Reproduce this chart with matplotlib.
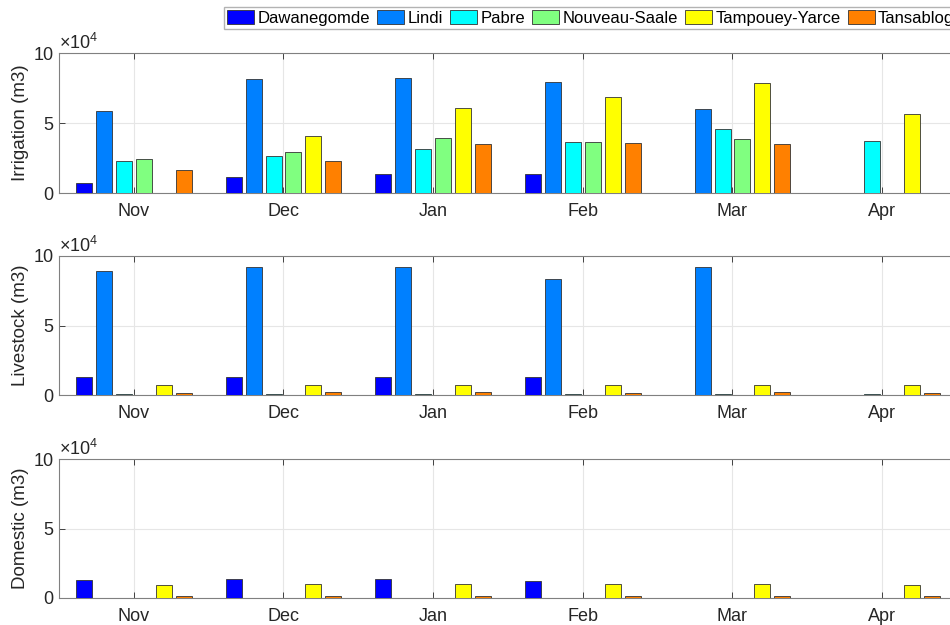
import matplotlib
matplotlib.use('Agg')
import matplotlib.pyplot as plt
import numpy as np
from matplotlib.patches import Patch

plt.rcParams['font.family'] = ['Liberation Sans', 'DejaVu Sans']
plt.rcParams['mathtext.fontset'] = 'custom'
plt.rcParams['mathtext.rm'] = 'Liberation Sans'

months = ['Nov', 'Dec', 'Jan', 'Feb', 'Mar', 'Apr']
sites = ['Dawanegomde', 'Lindi', 'Pabre', 'Nouveau-Saale', 'Tampouey-Yarce', 'Tansablogo']
colors = ['#0000ff', '#0080ff', '#00ffff', '#80ff80', '#ffff00', '#ff8000']

# monthly volumes (m3), one list per site
irrigation = {
    'Dawanegomde':    [7400, 11600, 13300, 13800, 0, 0],
    'Lindi':          [58600, 81200, 82400, 79000, 59800, 0],
    'Pabre':          [22600, 26400, 31400, 36700, 45500, 37400],
    'Nouveau-Saale':  [24100, 29000, 39000, 36700, 38300, 0],
    'Tampouey-Yarce': [0, 40700, 60900, 68800, 78300, 56400],
    'Tansablogo':     [16400, 22800, 34800, 35900, 34800, 0],
}
livestock = {
    'Dawanegomde':    [13200, 13200, 13200, 13200, 0, 0],
    'Lindi':          [89200, 92000, 92000, 83400, 92000, 0],
    'Pabre':          [500, 500, 500, 500, 500, 500],
    'Nouveau-Saale':  [0, 0, 0, 0, 0, 0],
    'Tampouey-Yarce': [7000, 7500, 7500, 7000, 7500, 7000],
    'Tansablogo':     [1700, 1900, 1800, 1700, 1800, 1700],
}
domestic = {
    'Dawanegomde':    [13200, 13400, 13400, 12200, 0, 0],
    'Lindi':          [0, 0, 0, 0, 0, 0],
    'Pabre':          [0, 0, 0, 0, 0, 0],
    'Nouveau-Saale':  [0, 0, 0, 0, 0, 0],
    'Tampouey-Yarce': [9300, 9800, 9800, 9800, 9800, 9300],
    'Tansablogo':     [1300, 1300, 1300, 1300, 1300, 1300],
}

panels = [('Irrigation (m3)', irrigation),
          ('Livestock (m3)', livestock),
          ('Domestic (m3)', domestic)]

fig = plt.figure(figsize=(9.5, 6.25), dpi=100)

W, H = 950.0, 625.0
left, right = 59, 957
tops = [(53, 193), (256, 395), (459, 598)]

x = np.arange(1, len(months) + 1)
step = 0.1333
bw = 0.107
gray = '#262626'

for (label, data), (ytop, ybot) in zip(panels, tops):
    ax = fig.add_axes([left / W, 1 - ybot / H, (right - left) / W, (ybot - ytop) / H])
    for j, site in enumerate(sites):
        ax.bar(x + (j - 2.5) * step, np.array(data[site]) / 1e4, width=bw,
               color=colors[j], edgecolor='#333333', linewidth=0.6, zorder=3)
    ax.set_xlim(0.5, 6.5)
    ax.set_ylim(0, 10)
    ax.set_xticks(x)
    ax.set_xticklabels(months)
    ax.set_yticks([0, 5, 10])
    ax.set_yticklabels(['0', '5', '10'])
    ax.grid(True, color='#e6e6e6', linewidth=0.8, zorder=0)
    ax.tick_params(direction='in', length=4, width=0.6, colors=gray,
                   labelsize=13, top=True, right=True, pad=4)
    ax.tick_params(axis='x', pad=7)
    for s in ax.spines.values():
        s.set_color('#808080')
        s.set_linewidth(0.8)
    ax.set_ylabel(label, fontsize=13.5, color=gray, labelpad=3)
    ax.text(0.0, 1.0, r'$\times\mathregular{10^4}$', transform=ax.transAxes,
            fontsize=13, color=gray, ha='left', va='bottom')

handles = [Patch(facecolor=c, edgecolor='#333333', linewidth=0.6) for c in colors]
leg = fig.legend(handles, sites, loc='upper left', bbox_to_anchor=(224 / W, 1 - 7 / H),
                 ncol=6, fontsize=12, frameon=True, fancybox=False,
                 handlelength=1.6, handleheight=0.9, handletextpad=0.2,
                 columnspacing=0.45, borderpad=0.2, borderaxespad=0)
leg.get_frame().set_edgecolor('#a0a0a0')
leg.get_frame().set_linewidth(1.0)

fig.savefig('out.png', dpi=100)
